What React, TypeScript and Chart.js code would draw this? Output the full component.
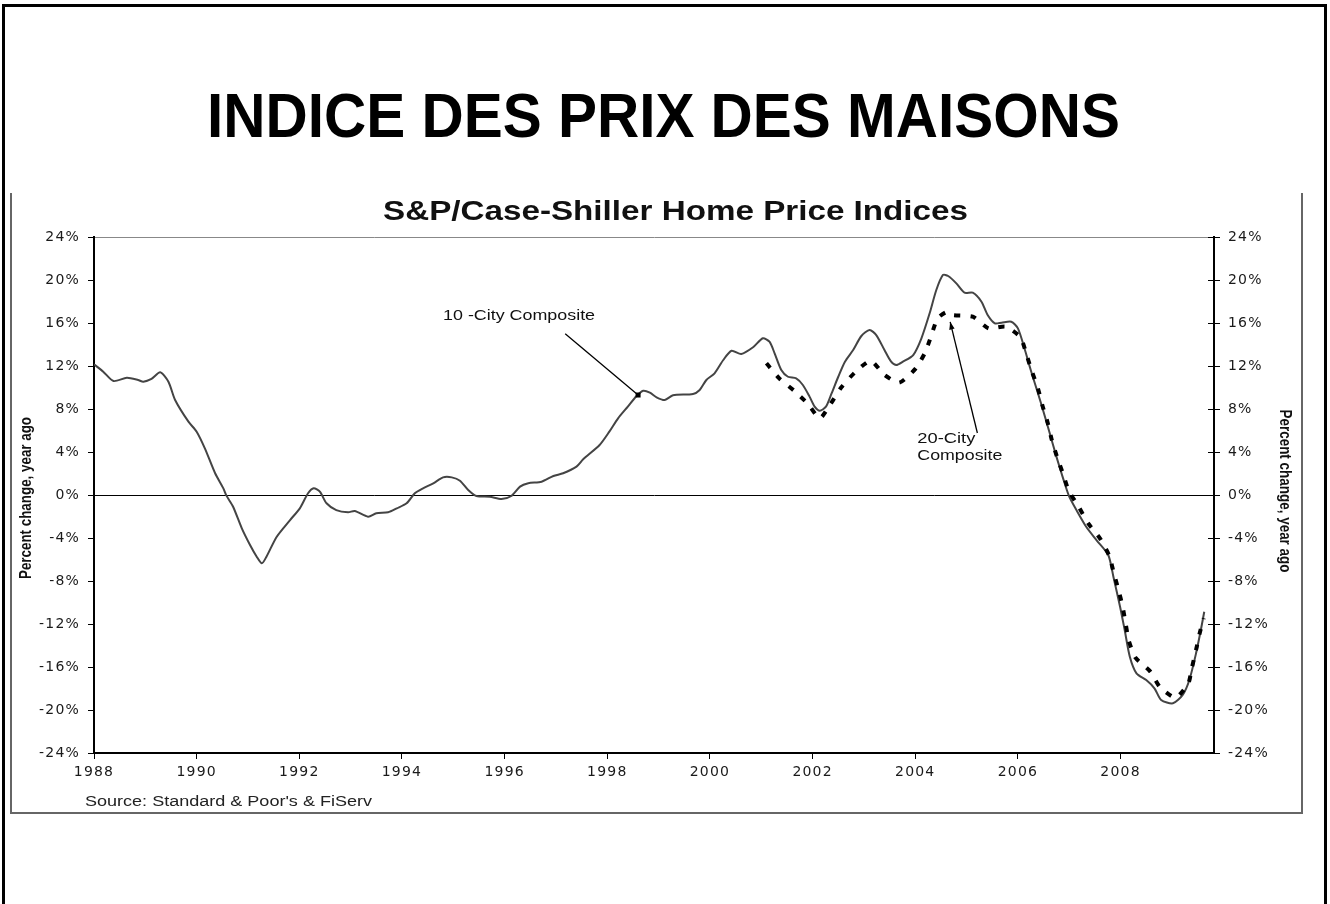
import React, { useEffect, useRef } from 'react';
import { Chart, registerables } from 'chart.js';

Chart.register(...registerables);

const W = 1330;
const H = 904;

// ---- data ----
const city10Years = [
  1988.0, 1988.18, 1988.38, 1988.64, 1988.86, 1988.96, 1989.12, 1989.29, 1989.45, 1989.58,
  1989.84, 1990.0, 1990.16, 1990.36, 1990.52, 1990.58, 1990.71, 1990.88, 1991.04, 1991.17,
  1991.27, 1991.36, 1991.56, 1991.82, 1992.01, 1992.17, 1992.28, 1992.4, 1992.53, 1992.72,
  1992.95, 1993.08, 1993.34, 1993.5, 1993.73, 1993.9, 1994.09, 1994.25, 1994.41, 1994.61,
  1994.8, 1994.97, 1995.13, 1995.29, 1995.45, 1995.71, 1995.94, 1996.13, 1996.3, 1996.46,
  1996.72, 1996.95, 1997.14, 1997.4, 1997.53, 1997.85, 1998.04, 1998.21, 1998.4, 1998.57,
  1998.7, 1998.83, 1998.96, 1999.12, 1999.28, 1999.67, 1999.8, 1999.93, 2000.09, 2000.26,
  2000.42, 2000.61, 2000.84, 2001.03, 2001.16, 2001.26, 2001.39, 2001.52, 2001.68, 2001.81,
  2001.94, 2002.04, 2002.14, 2002.26, 2002.37, 2002.5, 2002.63, 2002.79, 2002.95, 2003.11,
  2003.24, 2003.4, 2003.53, 2003.63, 2003.76, 2003.96, 2004.12, 2004.28, 2004.41, 2004.54,
  2004.64, 2004.8, 2004.96, 2005.12, 2005.29, 2005.41, 2005.55, 2005.68, 2005.87, 2006.0,
  2006.13, 2006.23, 2006.29, 2006.45, 2006.62, 2006.75, 2006.88, 2007.0, 2007.14, 2007.33,
  2007.53, 2007.76, 2007.86, 2007.99, 2008.08, 2008.18, 2008.31, 2008.5, 2008.66, 2008.79,
  2009.02, 2009.21, 2009.34, 2009.47, 2009.57, 2009.63,
];
const city10Pct = [
  12.16, 11.47, 10.6, 10.9, 10.7, 10.54, 10.8, 11.41, 10.54, 8.84,
  6.82, 5.89, 4.34, 2.02, 0.62, -0.06, -1.09, -3.1, -4.65, -5.74,
  -6.36, -5.74, -3.88, -2.33, -1.24, 0.16, 0.62, 0.31, -0.77, -1.4,
  -1.61, -1.49, -2.02, -1.7, -1.61, -1.24, -0.77, 0.16, 0.62, 1.09,
  1.64, 1.64, 1.33, 0.47, -0.09, -0.16, -0.37, -0.09, 0.78, 1.09,
  1.24, 1.77, 2.02, 2.64, 3.32, 4.65, 5.89, 7.13, 8.22, 9.21,
  9.7, 9.52, 9.09, 8.84, 9.27, 9.4, 9.77, 10.7, 11.32, 12.56,
  13.42, 13.12, 13.74, 14.58, 14.26, 13.18, 11.63, 11.0, 10.85, 10.23,
  9.15, 8.22, 7.84, 8.22, 9.46, 11.0, 12.4, 13.49, 14.79, 15.35,
  14.88, 13.49, 12.4, 12.09, 12.4, 13.02, 14.58, 16.9, 19.07, 20.47,
  20.37, 19.69, 18.82, 18.82, 17.98, 16.74, 15.97, 16.03, 16.12, 15.5,
  13.6, 11.94, 11.0, 8.53, 5.74, 3.57, 1.55, -0.16, -1.4, -2.95,
  -4.19, -5.58, -7.6, -10.39, -12.56, -15.04, -16.59, -17.21, -17.98, -19.07,
  -19.38, -18.6, -17.21, -14.73, -12.4, -10.86,
];
const city20Years = [
  2001.1, 2001.35, 2001.64, 2001.91, 2002.14, 2002.35, 2002.56, 2002.82, 2003.13, 2003.4,
  2003.69, 2004.01, 2004.19, 2004.31, 2004.43, 2004.6, 2004.73, 2005.12, 2005.43, 2005.76,
  2006.05, 2006.17, 2006.27, 2006.39, 2006.48, 2006.58, 2006.66, 2006.76, 2006.88, 2006.99,
  2007.19, 2007.37, 2007.61, 2007.78, 2007.87, 2007.96, 2008.04, 2008.1, 2008.16, 2008.29,
  2008.58, 2008.77, 2009.07, 2009.32, 2009.39, 2009.47, 2009.54, 2009.62,
];
const city20Pct = [
  12.25, 10.85, 9.7, 8.47, 7.13, 8.47, 10.02, 11.38, 12.49, 11.16,
  10.45, 11.78, 13.24, 14.79, 16.4, 17.0, 16.74, 16.59, 15.5, 15.66,
  14.67, 13.02, 11.53, 9.92, 8.28, 6.73, 5.12, 3.57, 1.95, 0.4,
  -1.15, -2.64, -4.12, -5.67, -7.29, -8.84, -10.39, -12.0, -13.55, -15.13,
  -16.43, -17.89, -18.85, -17.52, -16.06, -14.42, -12.87, -11.47,
];

const xTickYears = [1988, 1990, 1992, 1994, 1996, 1998, 2000, 2002, 2004, 2006, 2008];
const yTickPct = [-24, -20, -16, -12, -8, -4, 0, 4, 8, 12, 16, 20, 24];

const mainTitle = 'INDICE DES PRIX DES MAISONS';
const chartTitle = 'S&P/Case-Shiller Home Price Indices';
const axisTitle = 'Percent change, year ago';
const sourceNote = "Source: Standard & Poor's & FiServ";
const label10 = '10 -City Composite';
const label20 = ['20-City', 'Composite'];

// annotation anchors in data coordinates (year, percent)
const label10Pos = { x: 1994.8, y: 16.4 };
const arrow10 = { from: { x: 1997.18, y: 15.0 }, to: { x: 1998.6, y: 9.3 } };
const label20Pos = { x: 2004.04, y: 4.5 };
const arrow20 = { from: { x: 2005.21, y: 5.77 }, to: { x: 2004.68, y: 16.1 } };

function fitText(ctx: CanvasRenderingContext2D, text: string, font: string, x: number, y: number, targetW: number, align: 'left' | 'center', color: string) {
  ctx.save();
  ctx.font = font;
  ctx.fillStyle = color;
  ctx.textBaseline = 'alphabetic';
  ctx.textAlign = 'left';
  const w = ctx.measureText(text).width;
  const s = targetW / w;
  const left = align === 'center' ? x - targetW / 2 : x;
  ctx.translate(left, y);
  ctx.scale(s, 1);
  ctx.fillText(text, 0, 0);
  ctx.restore();
}

function rotText(ctx: CanvasRenderingContext2D, text: string, font: string, bx: number, cy: number, angle: number, targetLen: number, color: string) {
  ctx.save();
  ctx.font = font;
  ctx.fillStyle = color;
  ctx.textBaseline = 'alphabetic';
  ctx.textAlign = 'center';
  const w = ctx.measureText(text).width;
  ctx.translate(bx, cy);
  ctx.rotate(angle);
  ctx.scale(targetLen / w, 1);
  ctx.fillText(text, 0, 0);
  ctx.restore();
}

const decorPlugin = {
  id: 'decor',
  beforeDraw(chart: any) {
    const ctx = chart.ctx as CanvasRenderingContext2D;
    ctx.save();
    ctx.fillStyle = '#fff';
    ctx.fillRect(0, 0, W, H);
    ctx.restore();
    (ctx as any).letterSpacing = '1.2px';
  },
  beforeDatasetsDraw(chart: any) {
    (chart.ctx as any).letterSpacing = '0px';
  },
  afterDraw(chart: any) {
    const ctx = chart.ctx as CanvasRenderingContext2D;
    (ctx as any).letterSpacing = '0px';
    const xs = chart.scales.x;
    const ys = chart.scales.y;
    const px = (p: { x: number; y: number }) => ({ x: xs.getPixelForValue(p.x), y: ys.getPixelForValue(p.y) });

    // outer black frame
    ctx.save();
    ctx.strokeStyle = '#000';
    ctx.lineWidth = 3;
    ctx.beginPath();
    ctx.moveTo(3.5, H + 5);
    ctx.lineTo(3.5, 5.5);
    ctx.lineTo(1325.5, 5.5);
    ctx.lineTo(1325.5, H + 5);
    ctx.stroke();
    // inner gray frame of the chart picture
    ctx.strokeStyle = '#666';
    ctx.lineWidth = 2;
    ctx.beginPath();
    ctx.moveTo(11, 193);
    ctx.lineTo(11, 813);
    ctx.lineTo(1302, 813);
    ctx.lineTo(1302, 193);
    ctx.stroke();
    ctx.restore();

    // inner half of the right-axis ticks
    const y2 = chart.scales.y2;
    ctx.save();
    ctx.strokeStyle = '#000';
    ctx.lineWidth = 1;
    yTickPct.forEach((v) => {
      const yy = Math.round(y2.getPixelForValue(v)) + 0.5;
      ctx.beginPath();
      ctx.moveTo(y2.left - 6, yy);
      ctx.lineTo(y2.left, yy);
      ctx.stroke();
    });
    ctx.restore();

    // titles
    fitText(ctx, mainTitle, 'bold 63px "Liberation Sans", Arial, sans-serif', 663.5, 137, 913, 'center', '#000');
    fitText(ctx, chartTitle, 'bold 27px "Liberation Sans", Arial, sans-serif', 675.5, 220, 585, 'center', '#111');
    fitText(ctx, sourceNote, '14px "Liberation Sans", Arial, sans-serif', 85, 806, 287, 'left', '#222');

    // axis titles
    rotText(ctx, axisTitle, 'bold 16px "Liberation Sans", Arial, sans-serif', 31, 498, -Math.PI / 2, 162, '#111');
    rotText(ctx, axisTitle, 'bold 16px "Liberation Sans", Arial, sans-serif', 1280, 491, Math.PI / 2, 163, '#111');

    // annotations
    const l10 = px(label10Pos);
    fitText(ctx, label10, '14px "Liberation Sans", Arial, sans-serif', l10.x, l10.y + 1, 152, 'left', '#111');
    const l20 = px(label20Pos);
    fitText(ctx, label20[0], '14px "Liberation Sans", Arial, sans-serif', l20.x, l20.y - 4, 58, 'left', '#111');
    fitText(ctx, label20[1], '14px "Liberation Sans", Arial, sans-serif', l20.x, l20.y + 13, 85, 'left', '#111');

    ctx.save();
    ctx.strokeStyle = '#000';
    ctx.fillStyle = '#000';
    ctx.lineWidth = 1.3;
    const a1 = px(arrow10.from);
    const b1 = px(arrow10.to);
    ctx.beginPath();
    ctx.moveTo(a1.x, a1.y);
    ctx.lineTo(b1.x, b1.y);
    ctx.stroke();
    ctx.fillRect(b1.x - 2.5, b1.y - 2.5, 5, 5);
    const a2 = px(arrow20.from);
    const b2 = px(arrow20.to);
    ctx.beginPath();
    ctx.moveTo(a2.x, a2.y);
    ctx.lineTo(b2.x, b2.y);
    ctx.stroke();
    const ang = Math.atan2(b2.y - a2.y, b2.x - a2.x);
    ctx.beginPath();
    ctx.moveTo(b2.x, b2.y);
    ctx.lineTo(b2.x - 8 * Math.cos(ang - 0.35), b2.y - 8 * Math.sin(ang - 0.35));
    ctx.lineTo(b2.x - 8 * Math.cos(ang + 0.35), b2.y - 8 * Math.sin(ang + 0.35));
    ctx.closePath();
    ctx.fill();
    ctx.restore();
  },
};

const tickFont = { family: '"DejaVu Sans", Verdana, sans-serif', size: 14 };

export default function App() {
  const ref = useRef<HTMLCanvasElement | null>(null);

  useEffect(() => {
    if (!ref.current) return;
    const chart = new Chart(ref.current, {
      type: 'line',
      data: {
        datasets: [
          {
            label: '20-City Composite',
            data: city20Years.map((t, i) => ({ x: t, y: city20Pct[i] })),
            borderColor: '#000',
            borderWidth: 4,
            borderDash: [6, 10],
            borderCapStyle: 'butt',
            pointRadius: 0,
            tension: 0.2,
            fill: false,
            xAxisID: 'x',
            yAxisID: 'y',
          },
          {
            label: '10-City Composite',
            data: city10Years.map((t, i) => ({ x: t, y: city10Pct[i] })),
            borderColor: '#444',
            borderWidth: 2,
            pointRadius: 0,
            tension: 0.25,
            fill: false,
            xAxisID: 'x',
            yAxisID: 'y',
          },
        ],
      },
      options: {
        responsive: false,
        animation: false,
        devicePixelRatio: 1,
        layout: { padding: { top: 237, left: 0, right: 0, bottom: 0 } },
        plugins: {
          legend: { display: false },
          tooltip: { enabled: false },
          title: { display: false },
        },
        scales: {
          x: {
            type: 'linear',
            position: 'bottom',
            min: 1988,
            max: 2009.82,
            afterBuildTicks: (s: any) => {
              s.ticks = xTickYears.map((v) => ({ value: v }));
            },
            afterFit: (s: any) => {
              s.height = H - 753;
            },
            ticks: {
              font: tickFont,
              color: '#1a1a1a',
              padding: 5,
              maxRotation: 0,
              autoSkip: false,
              callback: (v: any) => String(v),
            },
            grid: { drawOnChartArea: false, tickLength: 6, tickColor: '#000', lineWidth: 1 },
            border: { color: '#000', width: 2 },
          },
          y: {
            type: 'linear',
            position: 'left',
            min: -24,
            max: 24,
            afterBuildTicks: (s: any) => {
              s.ticks = yTickPct.map((v) => ({ value: v }));
            },
            afterFit: (s: any) => {
              s.width = 94;
            },
            ticks: {
              font: tickFont,
              color: '#1a1a1a',
              padding: 8,
              callback: (v: any) => v + '%',
            },
            grid: {
              drawOnChartArea: true,
              tickLength: 6,
              tickColor: '#000',
              lineWidth: 1,
              color: (c: any) => (c.tick && c.tick.value === 0 ? '#000' : c.tick && c.tick.value === 24 ? '#888' : 'rgba(0,0,0,0)'),
            },
            border: { color: '#000', width: 2 },
          },
          y2: {
            type: 'linear',
            position: 'right',
            min: -24,
            max: 24,
            afterBuildTicks: (s: any) => {
              s.ticks = yTickPct.map((v) => ({ value: v }));
            },
            afterFit: (s: any) => {
              s.width = W - 1214;
            },
            ticks: {
              font: tickFont,
              color: '#1a1a1a',
              padding: 8,
              callback: (v: any) => v + '%',
            },
            grid: { drawOnChartArea: false, tickLength: 6, tickColor: '#000', lineWidth: 1 },
            border: { color: '#000', width: 2 },
          },
        },
      } as any,
      plugins: [decorPlugin],
    });
    return () => chart.destroy();
  }, []);

  return (
    <div style={{ position: 'absolute', left: 0, top: 0, width: W, height: H, background: '#fff' }}>
      <canvas ref={ref} width={W} height={H} style={{ display: 'block', width: W, height: H }} />
    </div>
  );
}
